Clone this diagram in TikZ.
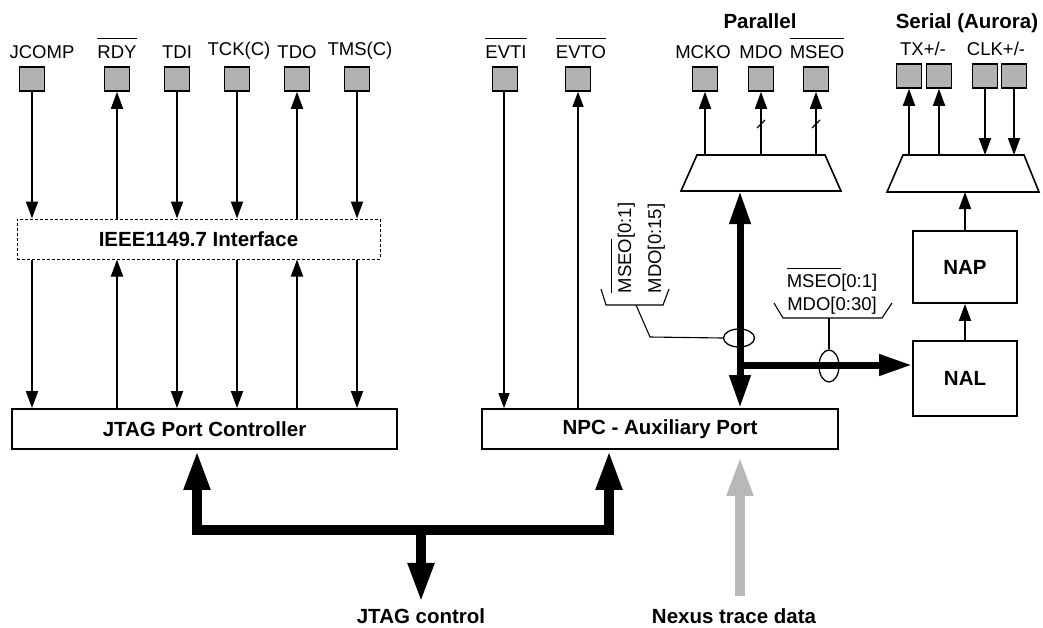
\documentclass[tikz,border=0pt]{standalone}
\usepackage{fontspec}
\setmainfont{Liberation Sans}
\usetikzlibrary{arrows.meta, positioning, shapes.geometric, calc}
\definecolor{pingray}{RGB}{178,178,178}
\definecolor{tracegray}{RGB}{184,184,184}
\newcommand{\olbar}[1]{\setbox0\hbox{#1}\rlap{\rule[\dimexpr\ht0+6pt\relax]{\wd0}{1.2pt}}\box0}
\tikzset{
  SigTip/.tip={Triangle[length=17pt,width=12pt]},
  BusTip/.tip={Triangle[length=33pt,width=20pt]},
  FatTip/.tip={Triangle[length=40pt,width=24pt]},
  pin/.style={
    draw,
    line width=1.6pt,
    fill=pingray,
    minimum width=25pt,
    minimum height=24pt,
    inner sep=0pt
  },
  pinlabel/.style={
    anchor=base,
    inner sep=0pt,
    font=\fontsize{18.5}{22}\selectfont
  },
  title/.style={
    anchor=base,
    inner sep=0pt,
    font=\fontsize{20.5}{24}\selectfont\bfseries
  },
  blk/.style={
    draw,
    line width=1.8pt,
    inner sep=0pt,
    font=\fontsize{20.5}{24}\selectfont\bfseries
  },
  muxline/.style={draw, line width=1.6pt, line join=miter},
  sig/.style={line width=1.8pt, -{SigTip}},
  thinsig/.style={line width=1.1pt, -{Triangle[length=15pt,width=11pt]}},
  bus/.style={line width=7pt},
  fatbus/.style={line width=10pt, line join=miter},
  tie/.style={line width=1.1pt},
  ring/.style={draw, ellipse, line width=1.3pt, inner sep=0pt}
}

\begin{document}
\begin{tikzpicture}[x=1pt, y=-1pt]
  \useasboundingbox (0,0) rectangle (1043,627);

  % JTAG pins
  \node[pin] (jcomp) at (32,79) {};
  \node[pin] (rdy) at (117,79) {};
  \node[pin] (tdi) at (177,79) {};
  \node[pin] (tck) at (237,79) {};
  \node[pin] (tdo) at (297,79) {};
  \node[pin] (tms) at (357,79) {};
  \node[pinlabel] (ljcomp) at (42,58) {JCOMP};
  \node[pinlabel] (lrdy) at (117,58) {\olbar{RDY}};
  \node[pinlabel] (ltdi) at (177,58) {TDI};
  \node[pinlabel] (ltck) at (239,55) {TCK(C)};
  \node[pinlabel] (ltdo) at (297,58) {TDO};
  \node[pinlabel] (ltms) at (360,55) {TMS(C)};

  % event pins
  \node[pin] (evti) at (505,79) {};
  \node[pin] (evto) at (578,79) {};
  \node[pinlabel] (levti) at (506,58) {\olbar{EVTI}};
  \node[pinlabel] (levto) at (581,58) {\olbar{EVTO}};

  % parallel pins
  \node[title] (tpar) at (760,28) {Parallel};
  \node[pin] (mcko) at (705,79) {};
  \node[pin] (mdo) at (761,79) {};
  \node[pin] (mseo) at (816,79) {};
  \node[pinlabel] (lmcko) at (703,58) {MCKO};
  \node[pinlabel] (lmdo) at (761,58) {MDO};
  \node[pinlabel] (lmseo) at (817,58) {\olbar{MSEO}};

  % serial pins
  \node[title] (tser) at (967,28) {Serial (Aurora)};
  \node[pin] (tx1) at (909,76) {};
  \node[pin] (tx2) at (939,76) {};
  \node[pin] (clk1) at (985,76) {};
  \node[pin] (clk2) at (1014,76) {};
  \node[pinlabel] (ltx) at (923,55) {TX+/-};
  \node[pinlabel] (lclk) at (996,55) {CLK+/-};

  % blocks
  \node[blk, dashed, line width=1pt, dash pattern=on 3pt off 2pt, minimum width=363pt, minimum height=40pt] (ieee) at (198.5,239) {IEEE1149.7 Interface};
  \node[blk, minimum width=385pt, minimum height=40pt] (jpc) at (204.5,429) {JTAG Port Controller};
  \node[blk, minimum width=356pt, minimum height=40pt] (npc) at (660,429) {NPC - Auxiliary Port};
  \node[blk, minimum width=104pt, minimum height=72pt] (nap) at (965,267) {NAP};
  \node[blk, minimum width=104pt, minimum height=75pt] (nal) at (965,378.5) {NAL};

  % muxes
  \coordinate (pmuxt) at (761,155);
  \coordinate (pmuxb) at (761,191);
  \draw[muxline] (697,155) -- (825,155) -- (841,191) -- (681,191) -- cycle;
  \coordinate (smuxt) at (963,155);
  \coordinate (smuxb) at (963,192);
  \draw[muxline] (903,155) -- (1024,155) -- (1039,192) -- (887,192) -- cycle;

  % JTAG signals
  \draw[sig] (jcomp) -- (jcomp |- ieee.north);
  \draw[sig] (rdy |- ieee.north) -- (rdy);
  \draw[sig] (tdi) -- (tdi |- ieee.north);
  \draw[sig] (tck) -- (tck |- ieee.north);
  \draw[sig] (tdo |- ieee.north) -- (tdo);
  \draw[sig] (tms) -- (tms |- ieee.north);
  \draw[sig] (jcomp |- ieee.south) -- (jcomp |- jpc.north);
  \draw[sig] (rdy |- jpc.north) -- (rdy |- ieee.south);
  \draw[sig] (tdi |- ieee.south) -- (tdi |- jpc.north);
  \draw[sig] (tck |- ieee.south) -- (tck |- jpc.north);
  \draw[sig] (tdo |- jpc.north) -- (tdo |- ieee.south);
  \draw[sig] (tms |- ieee.south) -- (tms |- jpc.north);

  % event signals
  \draw[thinsig] ([xshift=-1pt]evti.south) -- ([xshift=-1pt]evti.south |- npc.north);
  \draw[thinsig] (evto |- npc.north) -- (evto);

  % parallel port
  \draw[sig] (pmuxt -| mcko) -- (mcko);
  \draw[sig] (pmuxt -| mdo) -- (mdo);
  \draw[sig] (pmuxt -| mseo) -- (mseo);
  \draw[tie] ($(mdo)+(-4,49)$) -- ++(8,-8);
  \draw[tie] ($(mseo)+(-4,49)$) -- ++(8,-8);

  % serial port
  \draw[sig] (smuxt -| tx1) -- (tx1);
  \draw[sig] (smuxt -| tx2) -- (tx2);
  \draw[sig] (clk1) -- (clk1 |- smuxt);
  \draw[sig] (clk2) -- (clk2 |- smuxt);
  \draw[sig] (nap.north) -- (nap.north |- smuxb);
  \draw[sig] (nal) -- (nap);

  % trace bus
  \coordinate (tap) at (740,365);
  \draw[bus, {BusTip}-{BusTip}] (tap |- pmuxb) -- (tap |- npc.north);
  \draw[bus, -{BusTip}] (tap) -- (tap -| nal.west);
  \node[ring, minimum width=31pt, minimum height=18pt] (e1) at (739,338) {};
  \node[ring, minimum width=20pt, minimum height=32pt] (e2) at (829,366) {};

  % bus width labels
  \node[pinlabel, anchor=center, rotate=90, align=left, font=\fontsize{18.5}{30}\selectfont] (wpar) at (638,248) {\olbar{MSEO}[0:1]\\MDO[0:15]};
  \draw[tie] (601,289) -- (606,305) -- (663,305) -- (669,289);
  \coordinate (br1) at (636,305);
  \draw[tie] (br1) -- (650,337) -- (e1.west);
  \node[pinlabel, anchor=center, align=center, font=\fontsize{18.5}{23}\selectfont] (wser) at (832,291) {\olbar{MSEO}[0:1]\\MDO[0:30]};
  \draw[tie] (774,303) -- (783,318) -- (882,318) -- (892,303);
  \coordinate (br2) at (829,318);
  \draw[tie] (br2) -- (e2.north);

  % control and trace inputs
  \node[title] (ctrl) at (421,623) {JTAG control};
  \node[title] (trace) at (734,623) {Nexus trace data};
  \coordinate (jbus) at (421,530);
  \draw[fatbus, {FatTip}-{FatTip}] ([xshift=-7.5pt]jpc.south) |- (jbus) -| ([xshift=-51pt]npc.south);
  \draw[fatbus, -{FatTip}, shorten >=5pt] (jbus) -- (jbus |- ctrl.north);
  \draw[fatbus, tracegray, -{FatTip}, shorten <=12pt, shorten >=6pt] (trace.north -| tap) -- (npc.south -| tap);
\end{tikzpicture}
\end{document}
